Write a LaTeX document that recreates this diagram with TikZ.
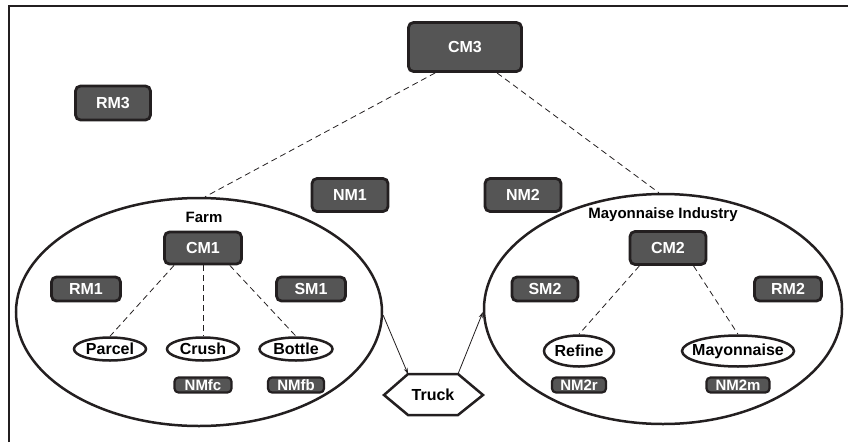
\documentclass[tikz,border=0pt]{standalone}
\usepackage{fontspec}
\setmainfont{Liberation Sans}
\usetikzlibrary{shapes.geometric,arrows.meta}
\definecolor{boxgray}{RGB}{85,85,85}
\definecolor{inkblack}{RGB}{35,31,32}

\begin{document}
\begin{tikzpicture}[x=1pt,y=-1pt,
    module/.style={draw=inkblack, fill=boxgray, line width=2.8pt, rounded corners=5pt,
        text=white, inner sep=0pt, font=\fontsize{16}{19}\selectfont\bfseries},
    smallmod/.style={module, line width=2.2pt, rounded corners=4pt, minimum height=15pt,
        font=\fontsize{15}{18}\selectfont\bfseries},
    task/.style={draw=inkblack, ellipse, line width=2.5pt, inner xsep=-7pt, inner ysep=1pt,
        font=\fontsize{16}{19}\selectfont\bfseries},
    site/.style={draw=inkblack, ellipse, line width=2.5pt, inner sep=0pt},
    sitelabel/.style={font=\fontsize{15}{18}\selectfont\bfseries},
    link/.style={inkblack, line width=0.8pt, dash pattern=on 6pt off 4pt},
    flow/.style={inkblack, line width=0.8pt, -{Stealth[length=6pt,width=4pt]}}]
        \useasboundingbox (0,0) rectangle (848,442);
        \draw[inkblack, line width=2.5pt] (9,442) -- (9,6) -- (848,6);

        % top level
        \node[module, minimum width=113pt, minimum height=49pt] (cmthree) at (465,47) {CM3};
        \node[module, minimum width=75pt, minimum height=34pt] (rmthree) at (113,103) {RM3};
        \node[module, minimum width=76pt, minimum height=33pt] (nmone) at (350,195) {NM1};
        \node[module, minimum width=76pt, minimum height=33pt] (nmtwo) at (523,195) {NM2};

        % farm
        \node[site, minimum width=366pt, minimum height=228pt] (farm) at (199,312) {};
        \node[sitelabel] (farmlabel) at (204,217) {Farm};
        \node[module, minimum width=77pt, minimum height=32pt] (cmone) at (203,248) {CM1};
        \node[module, minimum width=69pt, minimum height=24pt] (rmone) at (86,289) {RM1};
        \node[module, minimum width=69pt, minimum height=24pt] (smone) at (311,289) {SM1};
        \node[task, minimum width=72pt, minimum height=23pt] (parcel) at (110,349) {Parcel};
        \node[task, minimum width=72pt, minimum height=23pt] (crush) at (203,349) {Crush};
        \node[task, minimum width=73pt, minimum height=23pt] (bottle) at (296,349) {Bottle};
        \node[smallmod, minimum width=57pt] (nmfc) at (203,385) {NMfc};
        \node[smallmod, minimum width=56pt] (nmfb) at (296,385) {NMfb};

        % mayonnaise industry
        \node[site, minimum width=358pt, minimum height=230pt] (mayo) at (663,309) {};
        \node[sitelabel] (mayolabel) at (663,215) {Mayonnaise Industry};
        \node[module, minimum width=76pt, minimum height=33pt] (cmtwo) at (668,248) {CM2};
        \node[module, minimum width=66pt, minimum height=24pt] (smtwo) at (545,289) {SM2};
        \node[module, minimum width=67pt, minimum height=24pt] (rmtwo) at (788,289) {RM2};
        \node[task, minimum width=70pt, minimum height=31pt] (refine) at (579,351) {Refine};
        \node[task, minimum width=112pt, minimum height=31pt] (mayonnaise) at (738,351) {Mayonnaise};
        \node[smallmod, minimum width=54pt] (nmtwor) at (579,385) {NM2r};
        \node[smallmod, minimum width=63pt] (nmtwom) at (738,385) {NM2m};

        % truck
        \draw[inkblack, line width=2.5pt] (384,395) -- (408,374) -- (458,374) -- (483,395)
            -- (458,415) -- (408,415) -- cycle;
        \node[font=\fontsize{16}{19}\selectfont\bfseries] (truck) at (433,395) {Truck};
        \coordinate (truckin) at (408,374);
        \coordinate (truckout) at (458,374);

        % links
        \draw[link] (cmthree.-139) -- (farm.87);
        \draw[link] (cmthree.-39) -- (mayo.92);
        \draw[link] (cmone.-149) -- (parcel.north);
        \draw[link] (cmone.south) -- (crush.north);
        \draw[link] (cmone.-33) -- (bottle.north);
        \draw[link] (cmtwo.-148) -- (refine.north);
        \draw[link] (cmtwo.-35) -- (mayonnaise.north);
        \draw[flow] (farm.-1) -- (truckin);
        \draw[flow] (truckout) -- (mayo.181);
    \end{tikzpicture}
\end{document}
